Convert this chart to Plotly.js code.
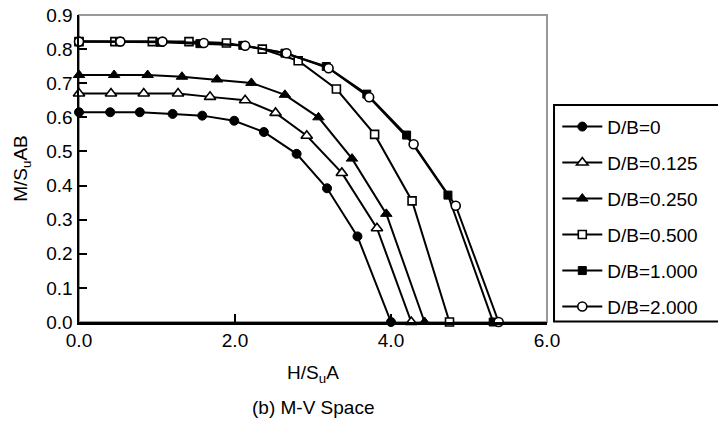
<!DOCTYPE html>
<html>
<head>
<meta charset="utf-8">
<script src="https://cdn.plot.ly/plotly-3.0.1.min.js"></script>
<style>
  html, body { margin: 0; padding: 0; background: #fff; }
  #chart { width: 718px; height: 422px; }
</style>
</head>
<body>
<div id="chart"></div>
<script>
// Series names (embedment ratio D/B)
const seriesNames = ['D/B=0', 'D/B=0.125', 'D/B=0.250', 'D/B=0.500', 'D/B=1.000', 'D/B=2.000'];

// Normalised horizontal load H/SuA for each series
const hDB0   = [0, 0.40, 0.78, 1.20, 1.58, 1.99, 2.37, 2.79, 3.18, 3.57, 4.00];
const hDB125 = [0, 0.41, 0.83, 1.27, 1.68, 2.13, 2.52, 2.92, 3.37, 3.82, 4.26];
const hDB250 = [0, 0.45, 0.88, 1.32, 1.77, 2.21, 2.64, 3.07, 3.50, 3.94, 4.43];
const hDB500 = [0, 0.46, 0.94, 1.41, 1.89, 2.35, 2.81, 3.30, 3.79, 4.27, 4.75];
const hDB1   = [0, 0.52, 1.04, 1.55, 2.10, 2.64, 3.17, 3.69, 4.20, 4.73, 5.31];
const hDB2   = [0, 0.53, 1.07, 1.60, 2.13, 2.66, 3.20, 3.72, 4.29, 4.83, 5.38];

// Normalised moment M/SuAB for each series
const mDB0   = [0.615, 0.615, 0.615, 0.610, 0.605, 0.590, 0.557, 0.493, 0.392, 0.251, 0];
const mDB125 = [0.670, 0.670, 0.670, 0.670, 0.660, 0.650, 0.613, 0.546, 0.437, 0.275, 0];
const mDB250 = [0.724, 0.724, 0.724, 0.719, 0.711, 0.701, 0.666, 0.600, 0.479, 0.317, 0];
const mDB500 = [0.822, 0.822, 0.822, 0.822, 0.818, 0.800, 0.766, 0.683, 0.550, 0.355, 0];
const mDB1   = [0.822, 0.822, 0.820, 0.816, 0.811, 0.788, 0.749, 0.668, 0.548, 0.372, 0];
const mDB2   = [0.822, 0.822, 0.822, 0.818, 0.810, 0.788, 0.744, 0.659, 0.521, 0.341, 0];

// Axis tick values
const xTicks = [0, 2, 4, 6];
const yTicks = [0, 0.1, 0.2, 0.3, 0.4, 0.5, 0.6, 0.7, 0.8, 0.9];

const hSeries = [hDB0, hDB125, hDB250, hDB500, hDB1, hDB2];
const mSeries = [mDB0, mDB125, mDB250, mDB500, mDB1, mDB2];

const markerStyles = [
  { symbol: 'circle',        size: 9,  color: '#000', line: { color: '#000', width: 1 } },
  { symbol: 'triangle-up',   size: 10, color: '#fff', line: { color: '#000', width: 1.6 } },
  { symbol: 'triangle-up',   size: 10, color: '#000', line: { color: '#000', width: 1 } },
  { symbol: 'square',        size: 8,  color: '#fff', line: { color: '#000', width: 1.6 } },
  { symbol: 'square',        size: 8,  color: '#000', line: { color: '#000', width: 1 } },
  { symbol: 'circle',        size: 9,  color: '#fff', line: { color: '#000', width: 1.6 } }
];

const traces = seriesNames.map((name, i) => ({
  type: 'scatter',
  mode: 'lines+markers',
  name: name,
  legendgroup: 'g' + i,
  x: hSeries[i],
  y: mSeries[i],
  cliponaxis: false,
  line: { color: '#000', width: 2 },
  marker: markerStyles[i]
}));

const font = { family: 'Liberation Sans, Arial, sans-serif', size: 19, color: '#000' };

const layout = {
  width: 718,
  height: 422,
  margin: { l: 79, r: 171, t: 15, b: 100, pad: 0 },
  paper_bgcolor: '#fff',
  plot_bgcolor: '#fff',
  font: font,
  showlegend: true,
  legend: {
    x: 1.022,
    xanchor: 'left',
    y: 0.698,
    yanchor: 'top',
    traceorder: 'grouped',
    tracegroupgap: 8.3,
    itemwidth: 40,
    bgcolor: 'rgba(0,0,0,0)',
    borderwidth: 0,
    font: font
  },
  xaxis: {
    range: [0, 6],
    tickvals: xTicks,
    tickformat: '.1f',
    ticks: 'inside',
    ticklen: 8,
    tickwidth: 2,
    tickcolor: '#000',
    showline: true,
    linecolor: '#000',
    linewidth: 2.5,
    showgrid: false,
    zeroline: false,
    tickfont: font,
    title: { text: 'H/S<sub>u</sub>A', font: font, standoff: 16 }
  },
  yaxis: {
    range: [0, 0.9],
    tickvals: yTicks,
    tickformat: '.1f',
    ticks: 'inside',
    ticklen: 8,
    tickwidth: 2,
    tickcolor: '#000',
    showline: true,
    linecolor: '#000',
    linewidth: 2.5,
    showgrid: false,
    zeroline: false,
    tickfont: font,
    title: { text: 'M/S<sub>u</sub>AB', font: font, standoff: 14 }
  },
  shapes: [
    // grey frame on top and right of the plotting area
    { type: 'rect', xref: 'paper', yref: 'paper', x0: 0, x1: 1, y0: 0, y1: 1,
      line: { color: '#999', width: 2 }, fillcolor: 'rgba(0,0,0,0)', layer: 'below' },
    // legend box
    { type: 'rect', xref: 'paper', yref: 'paper', x0: 1.015, x1: 1.4, y0: 0.002, y1: 0.7066,
      line: { color: '#000', width: 2 }, fillcolor: 'rgba(0,0,0,0)', layer: 'above' }
  ],
  annotations: [
    { text: '(b) M-V Space', xref: 'paper', yref: 'paper', x: 0.5, y: -0.28,
      xanchor: 'center', yanchor: 'middle', showarrow: false, font: font }
  ]
};

Plotly.newPlot('chart', traces, layout, { displayModeBar: false, staticPlot: true });
</script>
</body>
</html>
